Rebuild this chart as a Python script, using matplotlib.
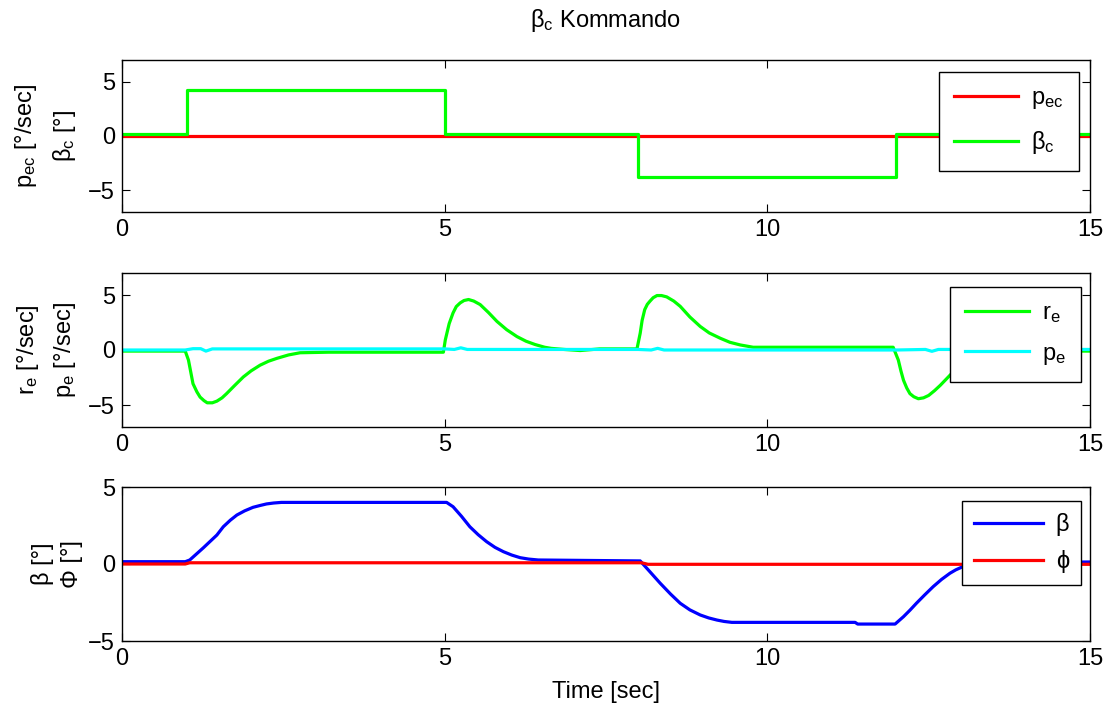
import matplotlib
matplotlib.use("Agg")
import matplotlib.pyplot as plt

plt.rcParams['font.family'] = ['Liberation Sans', 'DejaVu Sans']
plt.rcParams['mathtext.fontset'] = 'custom'
plt.rcParams['mathtext.rm'] = 'Liberation Sans'
plt.rcParams['mathtext.it'] = 'Liberation Sans'
plt.rcParams['mathtext.default'] = 'regular'

# ---- data ----
t_cmd = [0, 1, 5, 8, 12, 15]
beta_c = [0.2, 4.2, 0.2, -3.8, 0.2, 0.2]
t_pec = [0, 15]
p_ec = [0.0, 0.0]

t_re = [0, 0.98, 1.03, 1.10, 1.16, 1.21, 1.27, 1.32, 1.40, 1.47, 1.55, 1.62, 1.75, 1.88, 2.0,
        2.14, 2.27, 2.40, 2.58, 2.76, 3.2, 4.98,
        5.01, 5.07, 5.13, 5.18, 5.24, 5.30, 5.37, 5.45, 5.55, 5.68, 5.81, 5.96, 6.12, 6.26, 6.4,
        6.55, 6.65, 6.85, 7.1, 7.4, 7.98,
        8.03, 8.06, 8.10, 8.14, 8.18, 8.23, 8.29, 8.36, 8.44, 8.55, 8.65, 8.80, 8.96, 9.1, 9.27,
        9.42, 9.58, 9.78, 10.5, 11.95,
        12.03, 12.07, 12.11, 12.16, 12.21, 12.27, 12.34, 12.42, 12.50, 12.59, 12.68, 12.78, 12.88,
        13.1, 13.4, 13.8, 14.5, 15]
r_e = [-0.1, -0.1, -0.92, -3.06, -3.8, -4.28, -4.6, -4.8, -4.8, -4.65, -4.35, -3.97, -3.2, -2.45, -1.9,
       -1.38, -1.02, -0.76, -0.45, -0.25, -0.2, -0.2,
       0.92, 2.4, 3.37, 3.95, 4.28, 4.5, 4.59, 4.45, 4.13, 3.4, 2.6, 1.85, 1.22, 0.8, 0.5,
       0.25, 0.15, 0.05, -0.05, 0.1, 0.1,
       1.53, 2.7, 3.67, 4.15, 4.43, 4.75, 4.95, 4.95, 4.83, 4.45, 3.97, 3.0, 2.14, 1.55, 1.07,
       0.7, 0.46, 0.25, 0.25, 0.25,
       -0.92, -1.9, -2.75, -3.45, -3.97, -4.25, -4.43, -4.35, -4.13, -3.7, -3.21, -2.6, -1.99,
       -1.3, -0.7, -0.25, -0.1, -0.1]

t_pe = [0, 0.98, 1.1, 1.22, 1.3, 1.4, 5.0, 5.15, 5.25, 5.35, 8.0, 8.2, 8.3, 8.4,
        12.0, 12.45, 12.55, 12.65, 15]
p_e = [0.0, 0.0, 0.12, 0.12, -0.1, 0.1, 0.1, 0.05, 0.2, 0.05, 0.05, 0.0, 0.15, 0.0,
       0.0, 0.05, -0.12, 0.05, 0.05]

t_beta = [0, 0.98, 1.05, 1.26, 1.47, 1.57, 1.68, 1.78, 1.9, 2.03, 2.14, 2.24, 2.35, 2.47, 5.03,
          5.13, 5.26, 5.39, 5.52, 5.65, 5.78, 5.91, 6.04, 6.17, 6.3, 6.45, 8.03, 8.18, 8.34, 8.5,
          8.65, 8.8, 8.96, 9.09, 9.22, 9.33, 9.45, 11.36, 11.4, 11.98,
          12.11, 12.21, 12.31, 12.44, 12.57, 12.7, 12.83, 12.92, 13.01, 13.3, 13.7, 15]
beta = [0.15, 0.15, 0.26, 1.05, 1.88, 2.42, 2.85, 3.18, 3.45, 3.68, 3.8, 3.9, 3.96, 4.0, 4.0,
        3.72, 3.1, 2.42, 1.9, 1.45, 1.08, 0.8, 0.58, 0.41, 0.32, 0.26, 0.2, -0.5, -1.25, -1.95,
        -2.55, -2.98, -3.31, -3.5, -3.64, -3.73, -3.79, -3.79, -3.9, -3.9,
        -3.42, -3.0, -2.55, -2.0, -1.47, -1.0, -0.6, -0.38, -0.21, 0.0, 0.1, 0.13]

t_phi = [0, 0.98, 1.05, 8.05, 8.15, 15]
phi = [0.0, 0.0, 0.08, 0.08, -0.02, -0.02]

# ---- figure ----
FS = 17
fig = plt.figure(figsize=(11.04, 7.04), dpi=100)
L, W = 122 / 1104, 968 / 1104
ax1 = fig.add_axes([L, 1 - 212 / 704, W, 152 / 704])
ax2 = fig.add_axes([L, 1 - 427 / 704, W, 154 / 704])
ax3 = fig.add_axes([L, 1 - 641 / 704, W, 154 / 704])

lw = 2.3
ax1.plot(t_pec, p_ec, color=(1, 0, 0), lw=lw, label=r'$p_{ec}$')
ax1.plot(t_cmd, beta_c, color=(0, 1, 0), lw=lw, drawstyle='steps-post', label=r'$β_c$')
ax1.set_ylim(-7, 7)
ax1.set_yticks([-5, 0, 5])

ax2.plot(t_re, r_e, color=(0, 1, 0), lw=lw, label=r'$r_e$')
ax2.plot(t_pe, p_e, color=(0, 1, 1), lw=lw, label=r'$p_e$')
ax2.set_ylim(-7, 7)
ax2.set_yticks([-5, 0, 5])

ax3.plot(t_beta, beta, color=(0, 0, 1), lw=lw, label='β')
ax3.plot(t_phi, phi, color=(1, 0, 0), lw=lw, label='ϕ')
ax3.set_ylim(-5, 5)
ax3.set_yticks([-5, 0, 5])

for ax in (ax1, ax2, ax3):
    ax.set_xlim(0, 15)
    ax.set_xticks([0, 5, 10, 15])
    ax.tick_params(direction='in', top=True, right=True, length=6, width=0.8,
                   labelsize=FS, pad=5)
    for s in ax.spines.values():
        s.set_linewidth(1.0)

ax1.set_ylabel('$p_{ec}$ [°/sec]\n$β_c$ [°]', fontsize=FS, linespacing=1.6)
ax2.set_ylabel('$r_e$ [°/sec]\n$p_e$ [°/sec]', fontsize=FS, linespacing=1.6)
ax3.set_ylabel('β [°]\nΦ [°]', fontsize=FS, linespacing=1.45)
ax1.yaxis.set_label_coords(-0.045, 0.5)
ax2.yaxis.set_label_coords(-0.045, 0.5)
ax3.yaxis.set_label_coords(-0.040, 0.5)

ax1.set_title('$β_c$ Kommando', fontsize=FS, pad=24)
ax3.set_xlabel('Time [sec]', fontsize=FS, labelpad=8)

legkw = dict(loc='upper right', fancybox=False, framealpha=1, edgecolor='black',
             fontsize=FS, handlelength=2.7, handletextpad=0.55, borderpad=0.65,
             labelspacing=0.75, borderaxespad=0)
lg1 = ax1.legend(bbox_to_anchor=(0.9886, 0.921), **legkw)
lg2 = ax2.legend(bbox_to_anchor=(0.9907, 0.911), **legkw)
lg3 = ax3.legend(bbox_to_anchor=(0.9907, 0.909),
                 **dict(legkw, borderpad=0.5, labelspacing=0.6, handlelength=2.9))
for lg in (lg1, lg2, lg3):
    lg.get_frame().set_linewidth(1.0)

fig.savefig('out.png', dpi=100)
